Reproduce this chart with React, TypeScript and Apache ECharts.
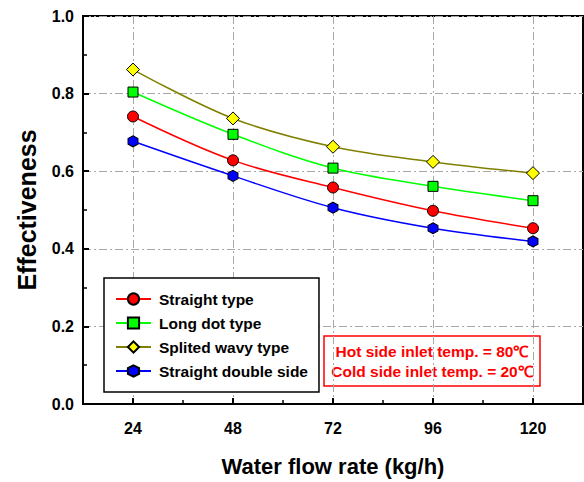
import { useEffect, useRef } from 'react';
import * as echarts from 'echarts';

// Water flow rate (kg/h) at each measurement point
const flowRates = [24, 48, 72, 96, 120];

// Effectiveness of each fin layout
const straightType = [0.741, 0.628, 0.558, 0.498, 0.453];
const longDotType = [0.804, 0.695, 0.608, 0.561, 0.524];
const splitedWavyType = [0.862, 0.736, 0.663, 0.624, 0.595];
const straightDoubleSide = [0.677, 0.588, 0.506, 0.453, 0.419];

const seriesNames = ['Straight type', 'Long dot type', 'Splited wavy type', 'Straight double side'];

// Axis ticks
const xMajorTicks = [24, 48, 72, 96, 120];
const xMinorTicks = [36, 60, 84, 108];

// Test conditions shown in the red box
const noteLines = ['Hot side inlet temp. = 80℃', 'Cold side inlet temp. = 20℃'];

const FONT = '"Liberation Sans", Arial, Helvetica, sans-serif';
const HEXAGON = 'path://M0,-10 L8.66,-5 L8.66,5 L0,10 L-8.66,5 L-8.66,-5 Z';
const GRID_DASH = [8, 3, 2, 3];
const GRID_COLOR = '#a8a8a8';

const pairs = (ys: number[]) => flowRates.map((x, i) => [x, ys[i]]);

export default function App() {
  const ref = useRef<HTMLDivElement>(null);

  useEffect(() => {
    if (!ref.current) return;
    const chart = echarts.init(ref.current, null, { renderer: 'svg' });

    const lineSeries = (
      name: string,
      ys: number[],
      lineColor: string,
      fill: string,
      symbol: string,
      symbolSize: number | number[]
    ) => ({
      name,
      type: 'line',
      xAxisIndex: 0,
      data: pairs(ys),
      smooth: 0.35,
      symbol,
      symbolSize,
      lineStyle: { color: lineColor, width: 1.5 },
      itemStyle: { color: fill, borderColor: '#000', borderWidth: 1 },
      z: 5,
    });

    chart.setOption({
      animation: false,
      backgroundColor: '#fff',
      textStyle: { fontFamily: FONT },
      grid: {
        left: 83,
        top: 16,
        width: 500,
        height: 391,
        show: true,
        borderColor: '#000',
        borderWidth: 2,
        backgroundColor: 'transparent',
      },
      xAxis: [
        {
          type: 'value',
          min: 12,
          max: 132,
          interval: 12,
          name: 'Water flow rate (kg/h)',
          nameLocation: 'middle',
          nameGap: 51,
          nameTextStyle: { fontSize: 22, fontWeight: 'bold', color: '#000', fontFamily: FONT },
          axisLine: { show: true, onZero: false, lineStyle: { color: '#000', width: 2 } },
          axisTick: {
            show: true,
            inside: true,
            length: 6,
            customValues: xMajorTicks,
            lineStyle: { color: '#000', width: 2 },
          },
          axisLabel: {
            customValues: xMajorTicks,
            formatter: (v: number) => (v % 24 === 0 ? String(v) : ''),
            fontSize: 16,
            fontWeight: 'bold',
            color: '#000',
            margin: 16,
            fontFamily: FONT,
          },
          splitLine: { show: true, lineStyle: { color: GRID_COLOR, width: 1, type: GRID_DASH } },
        },
        {
          type: 'value',
          min: 12,
          max: 132,
          interval: 12,
          position: 'bottom',
          axisLine: { show: false },
          axisLabel: { show: false },
          splitLine: { show: false },
          axisTick: {
            show: true,
            inside: true,
            length: 4,
            customValues: xMinorTicks,
            lineStyle: { color: '#000', width: 1.5 },
          },
        },
      ],
      yAxis: {
        type: 'value',
        min: 0,
        max: 1,
        interval: 0.2,
        name: 'Effectiveness',
        nameLocation: 'middle',
        nameGap: 44,
        nameTextStyle: { fontSize: 25, fontWeight: 'bold', color: '#000', fontFamily: FONT },
        axisLine: { show: true, lineStyle: { color: '#000', width: 2 } },
        axisTick: { show: true, inside: true, length: 6, lineStyle: { color: '#000', width: 2 } },
        minorTick: { show: true, splitNumber: 2, length: 4, lineStyle: { color: '#000', width: 1.5 } },
        axisLabel: {
          formatter: (v: number) => v.toFixed(1),
          fontSize: 16,
          fontWeight: 'bold',
          color: '#000',
          margin: 9,
          fontFamily: FONT,
        },
        splitLine: { show: true, lineStyle: { color: GRID_COLOR, width: 1, type: GRID_DASH } },
      },
      legend: {
        data: seriesNames,
        orient: 'vertical',
        left: 104,
        top: 278,
        itemWidth: 35,
        itemHeight: 14,
        itemGap: 8,
        padding: [13, 11, 13, 11],
        backgroundColor: '#fff',
        borderColor: '#000',
        borderWidth: 1.5,
        borderRadius: 0,
        z: 10,
        textStyle: {
          fontSize: 15.5,
          fontWeight: 'bold',
          color: '#000',
          fontFamily: FONT,
          padding: [0, 0, 0, 3],
        },
      },
      graphic: [
        {
          type: 'group',
          z: 10,
          children: [
            {
              type: 'rect',
              shape: { x: 324, y: 336, width: 216, height: 50 },
              style: { fill: '#fff', stroke: '#ff0000', lineWidth: 1.5 },
            },
            ...noteLines.map((t, i) => ({
              type: 'text',
              x: 432,
              y: 351 + i * 20,
              style: {
                text: t,
                fill: '#ff0000',
                fontSize: 15.5,
                fontWeight: 'bold',
                fontFamily: FONT,
                align: 'center',
                verticalAlign: 'middle',
              },
            })),
          ],
        },
      ],
      series: [
        lineSeries(seriesNames[0], straightType, '#ff0000', '#ff0000', 'circle', 11),
        lineSeries(seriesNames[1], longDotType, '#00ff00', '#00ff00', 'rect', 10),
        lineSeries(seriesNames[2], splitedWavyType, '#808000', '#ffff00', 'diamond', 13),
        lineSeries(seriesNames[3], straightDoubleSide, '#0000ff', '#0000ff', HEXAGON, [10, 11]),
      ],
    });

    return () => chart.dispose();
  }, []);

  return (
    <div
      ref={ref}
      style={{ position: 'absolute', left: 0, top: 0, width: 584, height: 482 }}
    />
  );
}
